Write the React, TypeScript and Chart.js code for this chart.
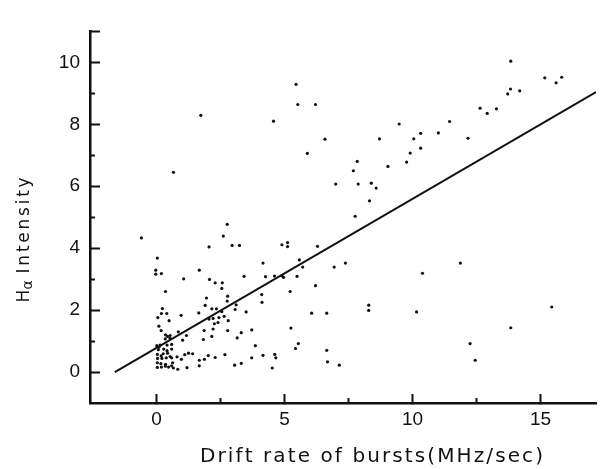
import React, { useEffect, useRef } from 'react';
import { Chart, registerables } from 'chart.js';

Chart.register(...registerables);

// Drift rate of bursts (MHz/sec) for each burst
const driftRate = [
  1.73, 4.57, 5.45, 5.52, 6.21, 0.66, -0.59, 2.76, 2.61, 2.05, 2.95, 3.24, 4.9, 5.12, 5.12,
  6.58, 5.89, 7.0, 7.76, 6.29, 7.69, 7.84, 7.88, 8.32, 8.39, 8.58, 8.71, 9.04, 9.48, 9.77,
  9.91, 10.05, 10.32, 10.32, 11.01, 11.45, 12.17, 12.64, 12.92, 13.28, 13.72, 13.83, 14.19,
  13.84, 15.17, 15.61, 15.83,
  11.87, 10.39, 7.38, 6.94, 6.21, 6.06, 6.65, 8.29, 8.29, 10.16, 15.44, 13.84, 12.25, 12.45,
  6.65, 6.68, 7.14, 5.54, 5.43, 5.58, 5.71,
  4.16, 3.42, 4.26, 4.61, 4.9, 4.96, 5.49, 3.11, 3.07, 4.11, 4.12, 5.22, 3.5, 2.64, 2.8, 3.31,
  3.15, 3.72, 5.25, 3.86, 3.72, 4.16, 4.62, 4.66, 3.05, 3.31, 4.52,
  0.03, -0.03, -0.03, 0.19, 1.67, 1.06, 2.07, 2.29, 2.57, 2.55,
  0.35, 1.95, 2.78, 1.9, 2.76, 0.23, 0.19, 0.4, 0.96, 1.65,
  2.16, 2.34, 2.55, 0.05, 0.49, 2.05, 2.21, 2.44, 2.26, 2.4,
  2.78, 0.09, 0.18, 1.86, 2.21, 0.85, 0.35, 0.43, 0.53, 1.17,
  0.34, 0.53, 1.02, 1.83, 2.16, 0.01, 0.09, 0.14, 0.07, 0.41,
  0.59, 0.28, 0.41, 0.59, 0.03, 0.18, 0.26, 0.43, 0.53, 0.04,
  0.21, 0.38, 0.59, 0.8, 0.97, 1.1, 1.25, 1.41, 1.67, 1.87,
  2.02, 2.29, 2.67, 0.03, 0.17, 0.35, 0.63, 0.03, 0.19, 0.35,
  0.47, 0.59, 0.66, 0.83, 1.19, 1.67,
];

// H-alpha intensity for each burst (same order as driftRate)
const intensity = [
  8.29, 8.1, 9.29, 8.64, 8.64, 6.45, 4.33, 4.77, 4.39, 4.04, 4.09, 4.09, 4.11, 4.18, 4.05,
  7.52, 7.06, 6.07, 5.03, 4.06, 6.5, 6.8, 6.07, 5.53, 6.1, 5.94, 7.53, 6.64, 8.01, 6.78,
  7.07, 7.53, 7.71, 7.23, 7.72, 8.09, 7.55, 8.52, 8.35, 8.5, 8.98, 9.14, 9.08,
  10.04, 9.5, 9.34, 9.52,
  3.52, 3.19, 3.52, 3.39, 2.79, 1.9, 1.9, 2.16, 1.99, 1.94, 2.1, 1.43, 0.92, 0.38,
  0.7, 0.33, 0.22, 0.92, 0.76, 3.62, 3.39,
  3.52, 3.09, 3.08, 3.1, 3.11, 3.06, 3.09, 2.17, 2.02, 2.5, 2.25, 2.6, 1.94, 1.8, 1.66, 1.27,
  1.1, 1.36, 1.42, 0.85, 0.46, 0.54, 0.57, 0.46, 0.22, 0.28, 0.13,
  3.68, 3.29, 3.16, 3.18, 3.29, 3.01, 2.99, 2.88, 2.88, 2.7,
  2.6, 2.39, 2.45, 2.15, 2.29, 2.05, 1.89, 1.89, 1.83, 1.91,
  2.04, 2.04, 1.95, 1.76, 1.66, 1.71, 1.73, 1.76, 1.56, 1.6,
  1.34, 1.48, 1.34, 1.34, 1.39, 1.3, 1.2, 1.15, 1.18, 1.18,
  1.07, 1.09, 1.03, 1.05, 1.15, 0.85, 0.8, 0.87, 0.72, 0.87,
  0.89, 0.74, 0.69, 0.74, 0.57, 0.52, 0.59, 0.61, 0.5, 0.44,
  0.44, 0.46, 0.46, 0.49, 0.41, 0.56, 0.61, 0.59, 0.38, 0.41,
  0.53, 0.47, 0.56, 0.3, 0.27, 0.25, 0.3, 0.15, 0.16, 0.19,
  0.16, 0.2, 0.13, 0.09, 0.14, 0.2,
];

// Fitted regression line end points
const fitLineX = [-1.63, 17.17];
const fitLineY = [0, 9.04];

// Axis ranges and ticks
const X_MIN = -2.6;
const X_MAX = 17.17;
const Y_MIN = -1;
const Y_MAX = 11;
const xMajorTicks = [0, 5, 10, 15];
const xMinorTicks = [2.5, 7.5, 12.5];
const yMajorTicks = [0, 2, 4, 6, 8, 10, 11];
const yLabelledTicks = [0, 2, 4, 6, 8, 10];
const yMinorTicks = [1, 3, 5, 7, 9];

// Texts
const X_TITLE = 'Drift rate of bursts(MHz/sec)';
const Y_TITLE_MAIN = 'H';
const Y_TITLE_SUB = 'α';
const Y_TITLE_REST = 'Intensity';

const TICK_FONT = { family: '"Liberation Sans", Arial, sans-serif', size: 19 };
const INK = '#111';

// width of a string drawn char by char with extra spacing
function spacedWidth(ctx: CanvasRenderingContext2D, s: string, sp: number) {
  let w = 0;
  for (const ch of s) w += ctx.measureText(ch).width + sp;
  return w - sp;
}
function drawSpaced(ctx: CanvasRenderingContext2D, s: string, x: number, y: number, sp: number) {
  let cx = x;
  for (const ch of s) {
    ctx.fillText(ch, cx, y);
    cx += ctx.measureText(ch).width + sp;
  }
  return cx - sp;
}

const axisTitles = {
  id: 'axisTitles',
  afterDraw(chart: any) {
    const { ctx, chartArea } = chart;
    ctx.save();
    ctx.fillStyle = INK;
    ctx.textAlign = 'left';
    ctx.textBaseline = 'alphabetic';
    // x title
    ctx.font = '20px "DejaVu Sans"';
    const xsp = 2.1;
    const xw = spacedWidth(ctx, X_TITLE, xsp);
    drawSpaced(ctx, X_TITLE, chartArea.left + 281.5 - xw / 2, chartArea.bottom + 59, xsp);
    // y title (rotated)
    ctx.translate(chartArea.left - 61.5, chartArea.top + 208.5);
    ctx.rotate(-Math.PI / 2);
    const ysp = 2.75;
    ctx.font = '17px "DejaVu Sans"';
    const wH = ctx.measureText(Y_TITLE_MAIN).width;
    const wRest = spacedWidth(ctx, Y_TITLE_REST, ysp);
    ctx.font = '14px "DejaVu Sans"';
    const wA = ctx.measureText(Y_TITLE_SUB).width;
    const gap = 7;
    const total = wH + wA + gap + wRest;
    let x0 = -total / 2;
    ctx.font = '17px "DejaVu Sans"';
    ctx.fillText(Y_TITLE_MAIN, x0, 0);
    x0 += wH;
    ctx.font = '14px "DejaVu Sans"';
    ctx.fillText(Y_TITLE_SUB, x0, 3);
    x0 += wA + gap;
    ctx.font = '17px "DejaVu Sans"';
    drawSpaced(ctx, Y_TITLE_REST, x0, 0, ysp);
    ctx.restore();
  },
};

export default function App() {
  const ref = useRef<HTMLCanvasElement | null>(null);

  useEffect(() => {
    if (!ref.current) return;
    const gridOpts = (len: number) => ({
      display: true,
      drawOnChartArea: false,
      drawTicks: true,
      tickLength: len,
      tickWidth: 2,
      tickColor: INK,
    });
    const chart = new Chart(ref.current, {
      type: 'scatter',
      data: {
        datasets: [
          {
            data: driftRate.map((x, i) => ({ x, y: intensity[i] })),
            pointRadius: 1.6,
            pointBackgroundColor: INK,
            pointBorderWidth: 0,
            xAxisID: 'x',
            yAxisID: 'y',
          },
          {
            data: fitLineX.map((x, i) => ({ x, y: fitLineY[i] })),
            showLine: true,
            borderColor: INK,
            borderWidth: 2,
            pointRadius: 0,
            fill: false,
            xAxisID: 'x',
            yAxisID: 'y',
          },
        ],
      },
      options: {
        animation: false,
        responsive: false,
        events: [],
        layout: { padding: { top: 11, left: 0, right: 0, bottom: 0 } },
        plugins: { legend: { display: false }, tooltip: { enabled: false } },
        scales: {
          x: {
            type: 'linear',
            position: 'bottom',
            weight: 1,
            min: X_MIN,
            max: X_MAX,
            afterBuildTicks: (s: any) => {
              s.ticks = xMajorTicks.map((v) => ({ value: v }));
            },
            afterFit: (s: any) => {
              s.height = 66;
            },
            grid: gridOpts(-9),
            border: { display: true, color: INK, width: 2.5 },
            ticks: {
              autoSkip: false,
              maxRotation: 0,
              padding: 14,
              color: INK,
              font: TICK_FONT,
              callback: (v: any) => String(v),
            },
          },
          x2: {
            type: 'linear',
            position: 'bottom',
            weight: 0,
            min: X_MIN,
            max: X_MAX,
            afterBuildTicks: (s: any) => {
              s.ticks = xMinorTicks.map((v) => ({ value: v }));
            },
            afterFit: (s: any) => {
              s.height = 0;
            },
            grid: gridOpts(-5),
            border: { display: false },
            ticks: { display: false, autoSkip: false },
          },
          y: {
            type: 'linear',
            position: 'left',
            weight: 1,
            min: Y_MIN,
            max: Y_MAX,
            afterBuildTicks: (s: any) => {
              s.ticks = yMajorTicks.map((v) => ({ value: v }));
            },
            afterFit: (s: any) => {
              s.width = 90;
            },
            grid: gridOpts(-10),
            border: { display: true, color: INK, width: 2.5 },
            ticks: {
              autoSkip: false,
              padding: 20,
              color: INK,
              font: TICK_FONT,
              callback: (v: any) => (yLabelledTicks.includes(v) ? String(v) : ''),
            },
          },
          y2: {
            type: 'linear',
            position: 'left',
            weight: 0,
            min: Y_MIN,
            max: Y_MAX,
            afterBuildTicks: (s: any) => {
              s.ticks = yMinorTicks.map((v) => ({ value: v }));
            },
            afterFit: (s: any) => {
              s.width = 0;
            },
            grid: gridOpts(-5),
            border: { display: false },
            ticks: { display: false, autoSkip: false },
          },
        },
      } as any,
      plugins: [axisTitles],
    });
    return () => chart.destroy();
  }, []);

  return (
    <div style={{ position: 'absolute', left: 0, top: 0, width: 600, height: 469, background: '#fff' }}>
      <canvas ref={ref} width={600} height={469} style={{ display: 'block', width: 600, height: 469 }} />
    </div>
  );
}
